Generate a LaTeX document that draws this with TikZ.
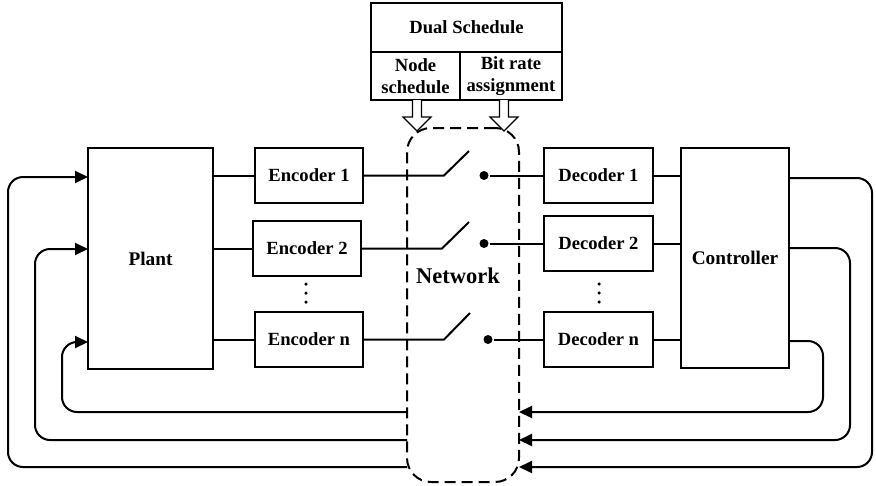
\documentclass[tikz,border=0pt]{standalone}
\usepackage{fontspec}
\setmainfont{Liberation Serif}
\usetikzlibrary{arrows.meta}
\begin{document}
\begin{tikzpicture}[x=1pt,y=-1pt,line width=2pt,
  box/.style={draw,rectangle,inner sep=0pt,font=\fontsize{18.6}{22}\selectfont\bfseries,align=center},
  bigbox/.style={box,font=\fontsize{19.3}{22}\selectfont\bfseries},
  fb/.style={draw,rounded corners=15pt,-{Triangle[length=13pt,width=12pt]}},
  hollow/.style={draw,line width=1.2pt,fill=white},
  vdot/.style={circle,fill,inner sep=0pt,minimum size=3.5pt},
  swdot/.style={circle,fill,inner sep=0pt,minimum size=9pt}]
\useasboundingbox (0,0) rectangle (876,485);
% schedule
\node[box,minimum width=191pt,minimum height=49pt] (ds) at (466.5,27.5) {Dual Schedule};
\node[box,minimum width=89pt,minimum height=48pt] (ns) at (415.5,76) {Node\\schedule};
\node[box,minimum width=102pt,minimum height=48pt] (br) at (511,76) {Bit rate\\assignment};
% network
\node[draw,dashed,dash pattern=on 11pt off 6pt,rounded corners=24pt,minimum width=112pt,minimum height=354pt,inner sep=0pt] (net) at (463,305) {};
\node[font=\fontsize{22.5}{24}\selectfont\bfseries] (netlbl) at (458,276) {Network};
% hollow arrows
\coordinate (a1) at (417,100);
\coordinate (a2) at (504,100);
\draw[hollow] ([xshift=-4.5pt]a1) -- ++(0,17) -- ++(-9.5,0) -- ++(14,14) -- ++(14,-14) -- ++(-9.5,0) -- ++(0,-17);
\draw[hollow] ([xshift=-4.5pt]a2) -- ++(0,17) -- ++(-9.5,0) -- ++(14,14) -- ++(14,-14) -- ++(-9.5,0) -- ++(0,-17);
% blocks
\node[bigbox,minimum width=125pt,minimum height=221pt] (plant) at (150.5,258.5) {Plant};
\node[box,minimum width=108pt,minimum height=55pt] (enc1) at (309,175.5) {Encoder 1};
\node[box,minimum width=108pt,minimum height=55pt] (enc2) at (307,248.5) {Encoder 2};
\node[box,minimum width=108pt,minimum height=55pt] (encn) at (309,339.5) {Encoder n};
\node[box,minimum width=109pt,minimum height=55pt] (dec1) at (598.5,175.5) {Decoder 1};
\node[box,minimum width=109pt,minimum height=55pt] (dec2) at (598.5,243.5) {Decoder 2};
\node[box,minimum width=109pt,minimum height=55pt] (decn) at (598.5,339.5) {Decoder n};
\node[bigbox,minimum width=108pt,minimum height=220pt] (ctrl) at (735,258) {Controller};
% vertical dots
\node[vdot] (ed1) at (306,284) {};
\node[vdot] (ed2) at (306,293) {};
\node[vdot] (ed3) at (306,302) {};
\node[vdot] (dd1) at (599,284) {};
\node[vdot] (dd2) at (599,293) {};
\node[vdot] (dd3) at (599,302) {};
% plant to encoders
\draw (plant.east |- enc1) -- (enc1.west);
\draw (plant.east |- enc2) -- (enc2.west);
\draw (plant.east |- encn) -- (encn.west);
% switches
\coordinate (s1a) at (444,175.5); \coordinate (s1b) at (469,151);
\coordinate (s2a) at (442,248.5); \coordinate (s2b) at (469,222);
\coordinate (sna) at (444,339.5); \coordinate (snb) at (470,313);
\draw (enc1.east) -- (s1a) -- (s1b);
\draw (enc2.east) -- (s2a) -- (s2b);
\draw (encn.east) -- (sna) -- (snb);
\node[swdot] (d1) at (484,175.5) {};
\node[swdot] (d2) at (484,243.5) {};
\node[swdot] (dn) at (488,339.5) {};
\draw (d1) -- (dec1.west);
\draw (d2) -- (dec2.west);
\draw (dn) -- (decn.west);
% decoders to controller
\draw (dec1.east) -- (ctrl.west |- dec1);
\draw (dec2.east) -- (ctrl.west |- dec2);
\draw (decn.east) -- (ctrl.west |- decn);
% feedback
\coordinate (c1) at (789,178);
\coordinate (c2) at (789,248);
\coordinate (c3) at (789,341);
\coordinate (r1) at (519,467);
\coordinate (r2) at (519,440);
\coordinate (r3) at (519,412);
\coordinate (l1) at (407,467);
\coordinate (l2) at (407,440);
\coordinate (l3) at (407,412);
\coordinate (p1) at (88,177);
\coordinate (p2) at (88,249);
\coordinate (p3) at (88,342);
\draw[fb] (c1) -- (872,178) -- (872,467) -- (r1);
\draw[fb] (c2) -- (850,248) -- (850,440) -- (r2);
\draw[fb] (c3) -- (823,341) -- (823,412) -- (r3);
\draw[fb] (l1) -- (8,467) -- (8,177) -- (p1);
\draw[fb] (l2) -- (35,440) -- (35,249) -- (p2);
\draw[fb] (l3) -- (62,412) -- (62,342) -- (p3);
\end{tikzpicture}
\end{document}
